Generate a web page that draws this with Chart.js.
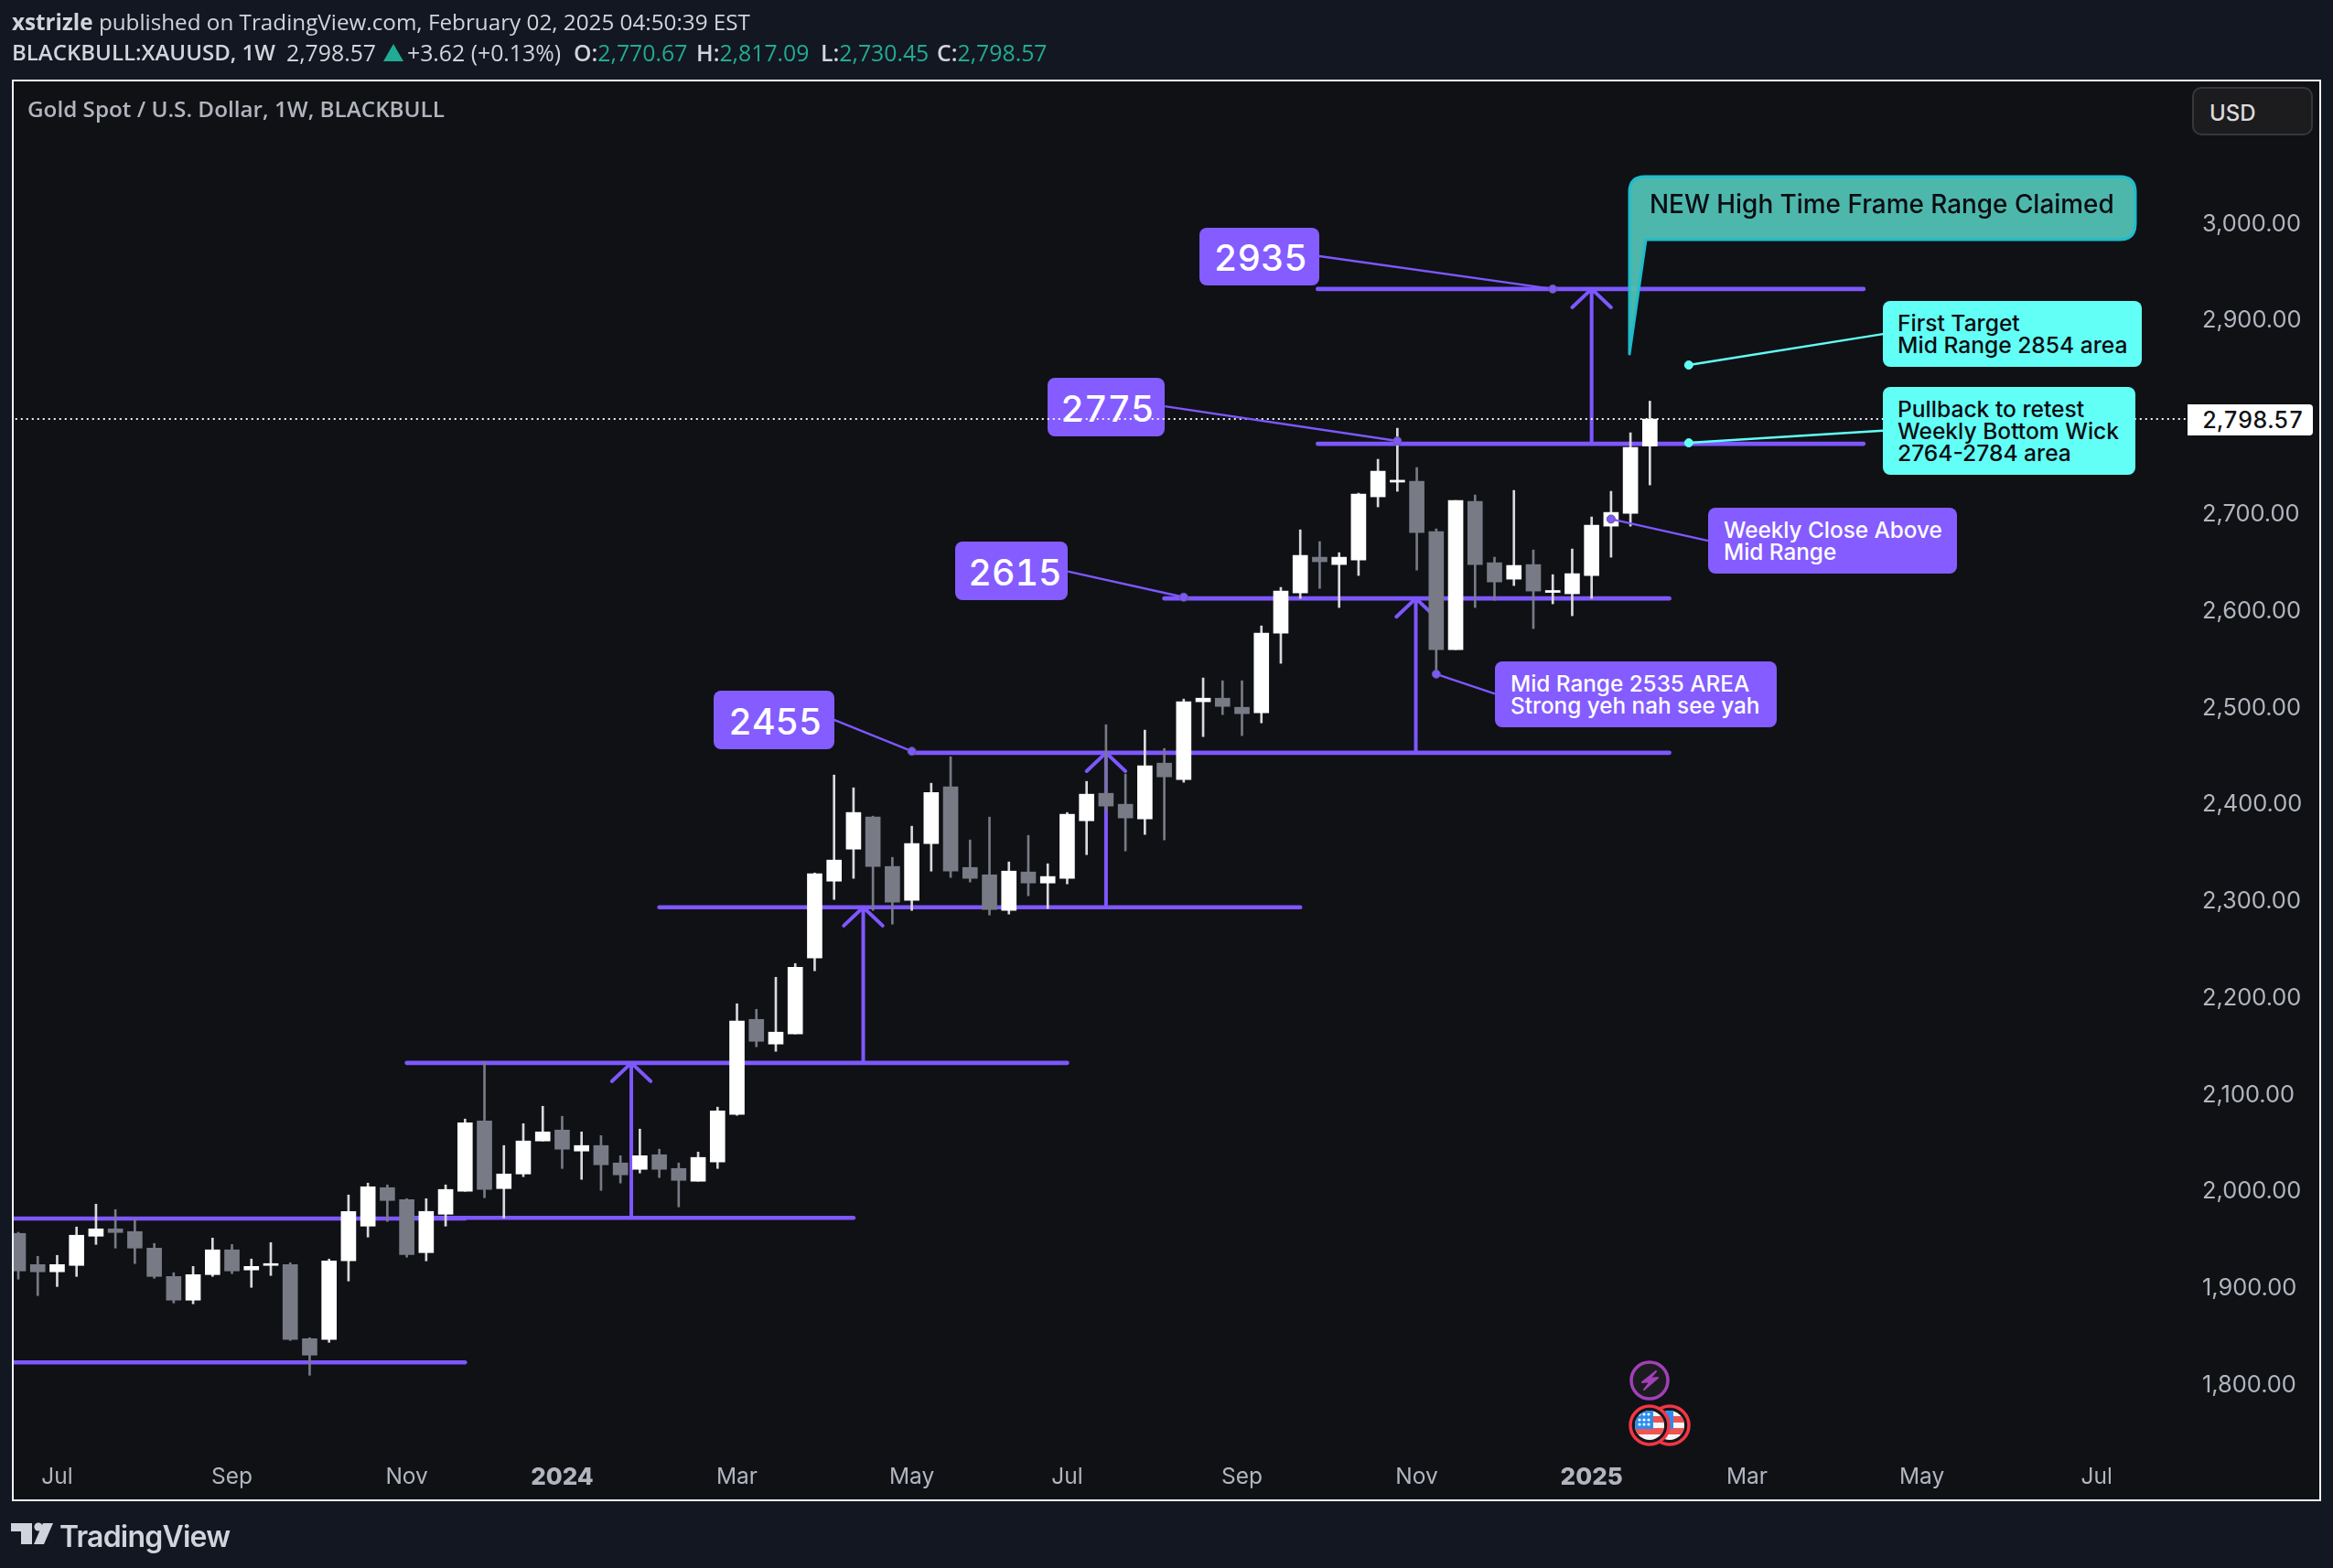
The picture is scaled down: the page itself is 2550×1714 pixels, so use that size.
<!DOCTYPE html>
<html>
<head>
<meta charset="utf-8">
<title>XAUUSD 1W</title>
<script src="https://cdn.jsdelivr.net/npm/chart.js@4"></script>
<style>
html, body { margin: 0; padding: 0; background: #131722; }
body { width: 2550px; height: 1714px; position: relative; overflow: hidden; font-family: "Open Sans", sans-serif; color: #d1d4dc; }
#pane { position: absolute; left: 13px; top: 87px; width: 2524px; height: 1554px; box-sizing: border-box; background: #0f1115; }
#frame { position: absolute; left: 13px; top: 87px; width: 2524px; height: 1554px; box-sizing: border-box; border: 2px solid #f0f3fa; pointer-events: none; }
canvas { position: absolute; left: 0; top: 0; }
.t { position: absolute; white-space: pre; line-height: 1; }
.box { position: absolute; box-sizing: border-box; border-radius: 8px; font-family: Inter, sans-serif; font-weight: 500; white-space: pre; }
.num { background: #845cff; color: #fff; font-size: 39.5px; font-variant-numeric: tabular-nums; display: flex; align-items: center; justify-content: center; padding: 3px 0 0 3px; }
.note { background: #845cff; color: #fff; font-size: 24.3px; line-height: 24px; padding: 12px 0 0 17px; }
.cyan { background: #62fff6; color: #0a0d12; font-size: 24.6px; line-height: 24px; padding: 12px 0 0 16px; }
svg { position: absolute; left: 0; top: 0; pointer-events: none; }
.g { color: #22ab94; }
.v { font-size: 24.8px; }
b { font-weight: 600; }
</style>
</head>
<body>
<div id="pane"></div>
<div class="box num" style="left:1145px;top:413px;width:128px;height:64px;">2775</div>
<canvas id="chart" width="2550" height="1714"></canvas>
<svg width="2550" height="1714" viewBox="0 0 2550 1714">
  <defs>
    <clipPath id="flagA"><circle cx="1803" cy="1558" r="16"/></clipPath>
    <clipPath id="flagB"><circle cx="1825" cy="1558" r="16"/></clipPath>
  </defs>
  <path d="M1799 262 L1781 387 L1781 210 Q1781 193 1798 193 L2317 193 Q2334 193 2334 210 L2334 245 Q2334 262 2317 262 Z" fill="#50bdb2" fill-opacity="0.97" stroke="#1fbccb" stroke-width="3" stroke-linejoin="round"/>
  <circle cx="1803" cy="1509" r="20" fill="#1c1c20" stroke="#a340b8" stroke-width="3.5"/>
  <path d="M1810 1499 L1795 1511 L1804 1510 L1797 1519 L1812 1506 L1803 1507 Z" fill="#a340b8" stroke="#a340b8" stroke-width="2" stroke-linejoin="round"/>
  <g>
    <circle cx="1825" cy="1558" r="21" fill="#16161a" stroke="#f23645" stroke-width="3.5"/>
    <g clip-path="url(#flagB)">
      <rect x="1809" y="1542" width="32" height="32" fill="#f7f7fb"/>
      <rect x="1809" y="1548" width="32" height="7" fill="#f05350"/>
      <rect x="1809" y="1561" width="32" height="7" fill="#f05350"/>
      <rect x="1809" y="1542" width="20" height="20" fill="#2a8cf0"/>
    </g>
    <circle cx="1803" cy="1558" r="21" fill="#16161a" stroke="#f23645" stroke-width="3.5"/>
    <g clip-path="url(#flagA)">
      <rect x="1787" y="1542" width="32" height="32" fill="#f7f7fb"/>
      <rect x="1787" y="1548" width="32" height="7" fill="#f05350"/>
      <rect x="1787" y="1561" width="32" height="7" fill="#f05350"/>
      <rect x="1787" y="1542" width="20" height="20" fill="#2a8cf0"/>
      <g fill="#fff">
        <circle cx="1792" cy="1546" r="1.6"/><circle cx="1797" cy="1546" r="1.6"/><circle cx="1802" cy="1546" r="1.6"/>
        <circle cx="1792" cy="1552" r="1.6"/><circle cx="1797" cy="1552" r="1.6"/><circle cx="1802" cy="1552" r="1.6"/>
        <circle cx="1792" cy="1557" r="1.6"/><circle cx="1797" cy="1557" r="1.6"/><circle cx="1802" cy="1557" r="1.6"/>
      </g>
    </g>
  </g>
  <g fill="#d1d4dc">
    <path d="M12 1665 H35 V1688 H23 V1674 H12 Z"/>
    <circle cx="42" cy="1669" r="4.6"/>
    <path d="M47 1665 H58 L48 1688 H37 Z"/>
  </g>
  <path d="M430 48 L441 67 L419 67 Z" fill="#22ab94"/>
</svg>
<div id="frame"></div>

<div class="t" style="left:13px;top:12px;font-size:24.25px;"><b style="font-weight:700">xstrizle</b> published on TradingView.com, February 02, 2025 04:50:39 EST</div>
<div class="t" style="left:13px;top:45px;font-size:24px;"><b>BLACKBULL:XAUUSD, 1W</b></div>
<div class="t v" style="left:313px;top:45px;">2,798.57</div>
<div class="t v" style="left:445px;top:45px;">+3.62 (+0.13%)</div>
<div class="t v" style="left:627px;top:45px;"><b>O:</b><span class="g">2,770.67</span></div>
<div class="t v" style="left:761px;top:45px;"><b>H:</b><span class="g">2,817.09</span></div>
<div class="t v" style="left:897px;top:45px;"><b>L:</b><span class="g">2,730.45</span></div>
<div class="t v" style="left:1024px;top:45px;"><b>C:</b><span class="g">2,798.57</span></div>
<div class="t" style="left:30px;top:107px;font-size:24.25px;font-weight:600;color:#b2b5be;">Gold Spot / U.S. Dollar, 1W, BLACKBULL</div>

<div class="t" id="usd" style="left:2396px;top:95px;width:132px;height:53px;box-sizing:border-box;background:#1c1c1f;border:2px solid #37373b;border-radius:10px;font:500 24px Inter,sans-serif;color:#dbdbdb;padding:12px 0 0 17px;">USD</div>
<div class="t" style="left:2391px;top:442px;width:137px;height:34px;background:#fff;border-radius:0 4px 4px 0;font:500 25px Inter,sans-serif;font-variant-numeric:tabular-nums;color:#0f1115;padding:2px 0 0 16px;box-sizing:border-box;">2,798.57</div>

<div class="box num" style="left:780px;top:755px;width:132px;height:64px;">2455</div>
<div class="box num" style="left:1044px;top:592px;width:123px;height:64px;padding-left:8px;">2615</div>
<div class="box num" style="left:1311px;top:249px;width:131px;height:63px;">2935</div>
<div class="box note" style="left:1634px;top:723px;width:308px;height:72px;">Mid Range 2535 AREA
Strong yeh nah see yah</div>
<div class="box note" style="left:1867px;top:555px;width:272px;height:72px;">Weekly Close Above
Mid Range</div>
<div class="box cyan" style="left:2058px;top:329px;width:283px;height:72px;">First Target
Mid Range 2854 area</div>
<div class="box cyan" style="left:2058px;top:423px;width:276px;height:96px;">Pullback to retest
Weekly Bottom Wick
2764-2784 area</div>
<div class="t" style="left:1803px;top:206px;font:500 27.9px Inter,sans-serif;color:#0a0d12;">NEW High Time Frame Range Claimed</div>
<div class="t" style="left:65px;top:1660px;font:600 32px Inter,sans-serif;color:#d1d4dc;letter-spacing:-0.8px;">TradingView</div>

<script>
// weekly candles
const opens = [1957.0,1924.8,1917.3,1923.9,1954.1,1961.7,1958.9,1941.8,1912.5,1888.0,1914.4,1940.0,1919.2,1923.9,1924.8,1848.2,1847.3,1928.6,1964.5,2004.3,1992.0,1937.1,1976.8,2000.5,2073.3,2003.3,2018.4,2052.5,2063.8,2042.1,2047.8,2029.8,2023.2,2038.3,2024.1,2010.9,2030.7,2079.9,2178.2,2152.7,2163.1,2241.6,2321.0,2354.1,2387.2,2336.2,2301.2,2359.8,2418.4,2335.2,2327.6,2290.8,2330.5,2319.1,2323.9,2383.4,2411.8,2400.5,2385.3,2443.0,2426.0,2506.4,2510.1,2500.7,2495.0,2577.3,2618.9,2655.8,2648.2,2652.9,2718.2,2733.4,2734.3,2682.3,2560.3,2713.5,2650.1,2633.1,2648.2,2619.4,2618.0,2636.9,2687.9,2701.2,2770.67];
const closes = [1918.2,1917.3,1924.8,1955.1,1961.7,1957.9,1941.8,1912.5,1888.0,1914.4,1940.0,1918.2,1922.9,1925.8,1847.3,1831.2,1928.6,1979.7,2005.2,1991.0,1935.2,1979.7,2002.4,2071.4,2002.4,2018.4,2052.5,2061.9,2044.0,2047.8,2027.9,2017.5,2037.3,2023.2,2011.8,2035.5,2083.7,2176.4,2155.5,2165.0,2232.1,2328.6,2342.8,2392.0,2336.2,2299.3,2359.8,2412.7,2331.4,2323.9,2291.7,2331.4,2319.1,2325.8,2390.1,2410.9,2398.6,2386.3,2440.2,2428.8,2506.4,2510.1,2501.6,2494.1,2577.3,2620.8,2657.7,2651.1,2655.8,2721.0,2744.7,2735.4,2681.3,2560.3,2714.4,2648.2,2630.2,2647.3,2620.8,2621.4,2638.8,2688.9,2702.1,2769.3,2798.57];
const highs = [1958.2,1933.3,1934.3,1963.6,1987.2,1981.6,1972.1,1946.6,1916.3,1922.9,1952.2,1945.6,1930.5,1947.5,1926.7,1849.2,1930.5,1996.7,2009.0,2007.1,1992.9,1992.9,2007.1,2075.2,2134.7,2047.8,2070.4,2088.4,2078.0,2061.9,2058.1,2037.3,2064.8,2044.0,2029.8,2041.1,2087.5,2194.3,2188.6,2221.7,2235.9,2329.5,2430.7,2417.5,2388.2,2345.6,2377.8,2422.2,2449.6,2363.6,2387.2,2340.9,2368.3,2339.0,2392.0,2424.1,2482.7,2431.7,2477.1,2458.1,2509.2,2531.0,2528.1,2528.1,2584.8,2624.6,2684.1,2671.9,2660.5,2722.0,2757.0,2789.1,2748.5,2685.1,2714.4,2720.1,2655.8,2724.8,2663.3,2637.8,2664.3,2697.4,2723.9,2784.4,2817.09];
const lows = [1909.7,1892.7,1902.1,1912.5,1945.6,1941.8,1925.8,1910.6,1885.1,1884.2,1912.5,1915.4,1901.2,1913.5,1846.3,1810.4,1844.4,1907.8,1953.2,1969.3,1932.4,1928.6,1964.5,2000.5,1993.8,1973.0,2015.6,2052.5,2024.1,2012.8,2001.4,2009.0,2019.4,2014.7,1984.4,2010.9,2024.1,2079.0,2149.9,2145.2,2163.1,2228.4,2302.1,2323.9,2290.8,2276.6,2290.8,2331.4,2324.8,2320.1,2286.0,2287.0,2305.9,2292.7,2318.2,2348.4,2392.9,2352.2,2369.3,2363.6,2423.2,2470.4,2493.1,2471.4,2484.6,2546.1,2613.2,2623.6,2603.8,2636.9,2707.8,2723.9,2642.5,2535.1,2560.3,2603.8,2611.3,2626.5,2582.0,2607.6,2595.3,2613.2,2655.8,2687.9,2730.45];

const priceTicks = [1800,1900,2000,2100,2200,2300,2400,2500,2600,2700,2800,2900,3000];
const timeTicks = [2,11,20,28,37,46,54,63,72,81,89,98,107];
const timeLabels = ['Jul','Sep','Nov','2024','Mar','May','Jul','Sep','Nov','2025','Mar','May','Jul'];

const lastPrice = 2798.57;

// range levels: [from bar, to bar, price]
const rangeLevels = [
    [-1, 23, 1972.4],
    [-1, 23, 1823.7],
    [20, 43, 1973],
    [20, 54, 2133.2],
    [33, 66, 2294],
    [46, 85, 2453.7],
    [59, 85, 2613.2],
    [66.9, 95, 2773],
    [66.9, 95, 2933]
];

// measured-move arrows: [bar, from price, to price]
const moveArrows = [
    [31.56, 1973, 2133.2],
    [43.5, 2133.2, 2294],
    [56, 2294, 2453.7],
    [71.95, 2453.7, 2613.2],
    [81, 2773, 2933]
];

// note connectors: [label bar, label price, dot bar, dot price]
const purpleLinks = [
    [42, 2487.7, 46, 2455.3],
    [54.03, 2641.1, 60, 2614.5],
    [59.03, 2811.8, 71, 2775.9],
    [66.98, 2966.9, 79, 2933],
    [76.02, 2514.6, 73, 2535],
    [87, 2672.8, 82, 2695.2]
];
const cyanLinks = [
    [96, 2886.5, 86, 2854.4],
    [96, 2786.6, 86, 2774]
];

const PURPLE = '#7e57ff';
const CYAN = '#62fff6';
const UP = '#ffffff';
const DOWN = '#787b86';

const bars = opens.map((o, i) => i);
const isUp = bars.map(i => closes[i] >= opens[i]);

function levelDatasets() {
    return rangeLevels.map(l => ({
        type: 'line',
        data: [{ x: l[0], y: l[2] }, { x: l[1], y: l[2] }],
        borderColor: PURPLE,
        borderWidth: 4.6,
        borderCapStyle: 'round',
        pointRadius: 0,
        order: 10
    }));
}

function arrowDatasets() {
    return moveArrows.map(a => ({
        type: 'line',
        data: [
            { x: a[0], y: a[1] },
            { x: a[0], y: a[2] },
            { x: a[0] - 1, y: a[2] - 19 },
            { x: a[0], y: a[2] },
            { x: a[0] + 1, y: a[2] - 19 }
        ],
        borderColor: PURPLE,
        borderWidth: 4,
        borderCapStyle: 'round',
        borderJoinStyle: 'round',
        pointRadius: 0,
        order: 10
    }));
}

function linkDatasets(links, color, dotBorder) {
    return links.map(l => ({
        type: 'line',
        data: [{ x: l[0], y: l[1] }, { x: l[2], y: l[3] }],
        borderColor: color,
        borderWidth: 2.4,
        pointRadius: [0, 4.5],
        pointBackgroundColor: color,
        pointBorderColor: dotBorder,
        pointBorderWidth: 1,
        order: 0
    }));
}

new Chart(document.getElementById('chart'), {
    type: 'bar',
    data: {
        datasets: [
            {
                type: 'bar',
                data: bars.map(i => ({ x: i, y: [opens[i], closes[i]] })),
                backgroundColor: isUp.map(u => u ? UP : DOWN),
                barThickness: 16,
                grouped: false,
                order: 1
            },
            {
                type: 'bar',
                data: bars.map(i => ({ x: i, y: [lows[i], highs[i]] })),
                backgroundColor: isUp.map(u => u ? '#d9dade' : DOWN),
                barThickness: 2,
                grouped: false,
                order: 2
            },
            {
                type: 'line',
                data: [{ x: -1, y: lastPrice }, { x: 120, y: lastPrice }],
                borderColor: '#f0f3fa',
                borderWidth: 2,
                borderDash: [2, 4],
                pointRadius: 0,
                order: 5
            },
            ...levelDatasets(),
            ...arrowDatasets(),
            ...linkDatasets(purpleLinks, PURPLE, '#5f5a80'),
            ...linkDatasets(cyanLinks, CYAN, CYAN)
        ]
    },
    options: {
        responsive: false,
        devicePixelRatio: 1,
        animation: false,
        layout: { padding: { left: 15, top: 89, right: 13, bottom: 74 } },
        plugins: { legend: { display: false }, tooltip: { enabled: false }, title: { display: false } },
        scales: {
            x: {
                type: 'linear',
                offset: false,
                min: -0.2355,
                max: 111.68,
                grid: { display: false },
                border: { display: false },
                afterFit: s => { s.height = 58; },
                afterBuildTicks: s => { s.ticks = timeTicks.map(v => ({ value: v })); },
                ticks: {
                    autoSkip: false,
                    maxRotation: 0,
                    padding: 10,
                    color: '#b2b5be',
                    callback: v => timeLabels[timeTicks.indexOf(v)],
                    font: c => {
                        const bold = c.tick && (c.tick.value === 28 || c.tick.value === 81);
                        return { family: 'Inter', size: bold ? 26 : 24.5, weight: bold ? '800' : '400' };
                    }
                }
            },
            y: {
                type: 'linear',
                position: 'right',
                min: 1736,
                max: 3147.5,
                grid: { display: false },
                border: { display: false },
                afterFit: s => { s.width = 146; },
                afterBuildTicks: s => { s.ticks = priceTicks.map(v => ({ value: v })); },
                ticks: {
                    autoSkip: false,
                    padding: 8,
                    color: '#b2b5be',
                    font: { family: 'Inter', size: 25.4 },
                    callback: v => v === 2800 ? '' : v.toLocaleString('en-US', { minimumFractionDigits: 2 })
                }
            }
        }
    }
});
</script>
</body>
</html>
